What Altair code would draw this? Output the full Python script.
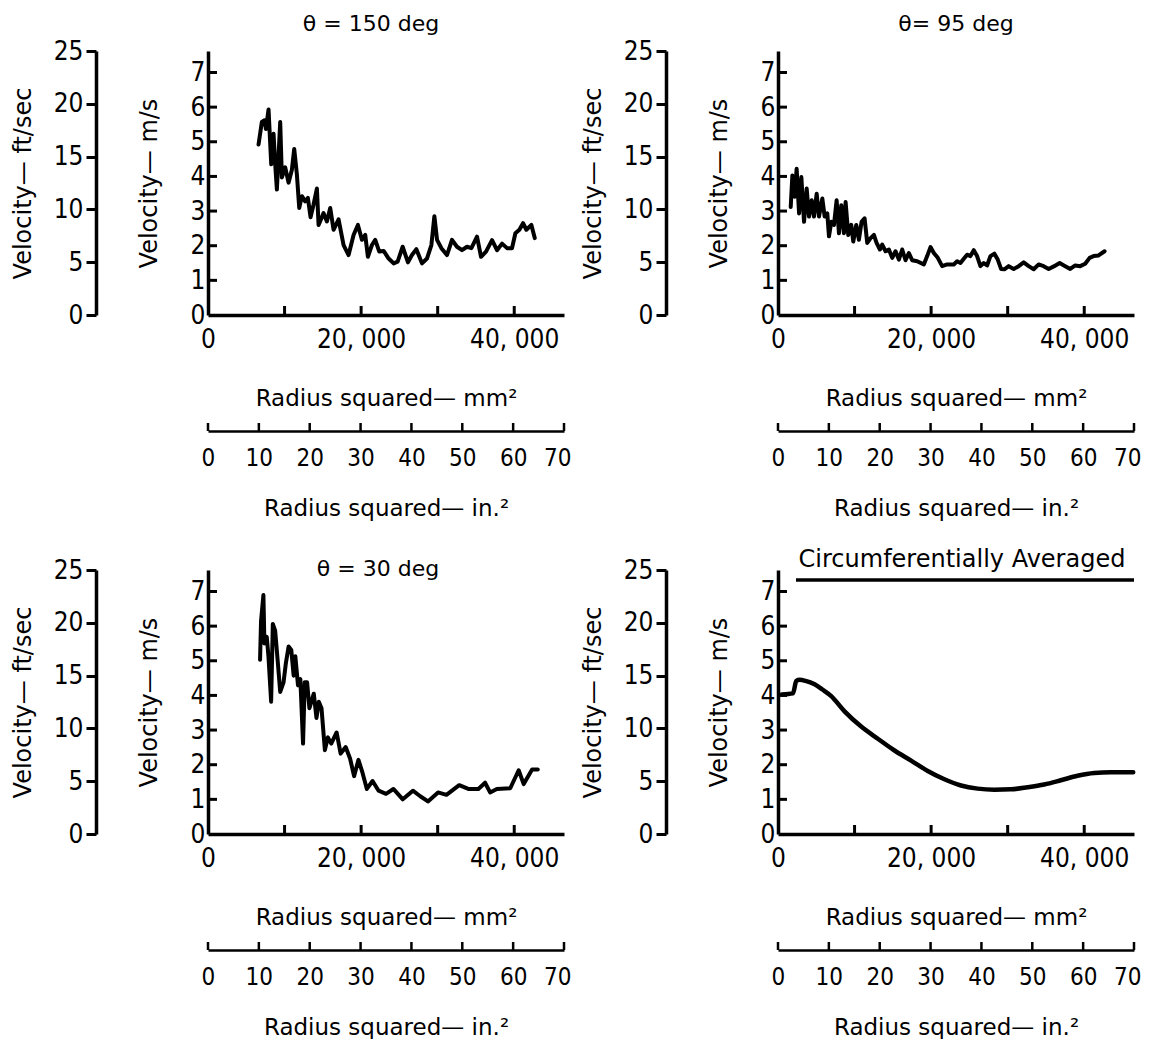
import altair as alt
import pandas as pd

# ---------------- data ----------------
r2_150 = [6601, 7033, 7386, 7560, 7909, 8258, 8562, 8780, 8997, 9432,
          9650, 10086, 10521, 10957, 11262, 11610, 11915, 12263, 12699, 13047,
          13396, 13788, 14224, 14442, 15096, 15531, 15966, 16401, 17055, 17708,
          18361, 19015, 19581, 20104, 20539, 20887, 21410, 21846, 22369, 22941,
          23595, 24248, 24771, 25425, 26119, 26642, 27216, 27950, 28603, 29177,
          29569, 29917, 30484, 31216, 31869, 32523, 33176, 33830, 34405, 35138,
          35661, 36314, 37099, 37752, 38406, 39059, 39713, 40149, 40671, 41150,
          41585, 42239, 42681]
v_150 = [4.92, 5.57, 5.62, 5.37, 5.93, 4.35, 5.23, 4.35, 3.62, 5.57,
         3.97, 4.26, 3.82, 4.19, 4.79, 4.06, 3.09, 3.43, 3.28, 3.38,
         2.82, 3.19, 3.65, 2.60, 2.94, 2.70, 3.09, 2.46, 2.76, 2.02,
         1.73, 2.31, 2.60, 2.17, 2.31, 1.68, 2.02, 2.17, 1.83, 1.85,
         1.63, 1.49, 1.54, 1.97, 1.52, 1.73, 1.90, 1.49, 1.63, 2.02,
         2.85, 2.17, 1.93, 1.73, 2.17, 1.97, 1.87, 1.97, 1.93, 2.26,
         1.68, 1.83, 2.16, 1.87, 2.06, 1.93, 1.93, 2.36, 2.46, 2.65,
         2.46, 2.60, 2.22]

r2_95 = [1660, 1878, 2174, 2435, 2753, 3050, 3400, 3747, 4051, 4398,
         4702, 5050, 5354, 5789, 6093, 6440, 6658, 6962, 7310, 7658,
         7962, 8266, 8614, 8831, 9179, 9570, 9831, 10222, 10570, 10917,
         11309, 11657, 12092, 12526, 12874, 13309, 13613, 14048, 14483, 14918,
         15353, 15787, 16222, 16657, 17092, 17527, 18180, 19049, 19484, 19918,
         20353, 20875, 21440, 22092, 22962, 23397, 23831, 24266, 24701, 25136,
         25571, 26005, 26440, 26875, 27310, 27745, 28266, 28701, 29136, 29570,
         30135, 30788, 31440, 32092, 32744, 33396, 34048, 34700, 35352, 36083,
         36788, 37518, 38170, 38822, 39474, 40126, 40700, 41222, 41874, 42657]
v_95 = [3.12, 4.03, 3.41, 4.22, 2.93, 3.98, 2.69, 3.65, 2.84, 3.31,
        2.84, 3.50, 2.84, 3.36, 2.84, 2.93, 2.27, 2.69, 2.60, 3.31,
        2.36, 3.17, 2.36, 3.26, 2.31, 2.60, 2.12, 2.60, 2.17, 2.69,
        2.79, 2.08, 2.22, 2.31, 2.08, 1.89, 2.03, 1.84, 1.89, 1.65,
        1.84, 1.60, 1.89, 1.58, 1.79, 1.58, 1.55, 1.46, 1.70, 1.96,
        1.79, 1.65, 1.41, 1.46, 1.46, 1.55, 1.50, 1.62, 1.74, 1.70,
        1.87, 1.70, 1.41, 1.50, 1.43, 1.70, 1.77, 1.60, 1.33, 1.32,
        1.41, 1.33, 1.41, 1.52, 1.41, 1.32, 1.46, 1.41, 1.33, 1.41,
        1.50, 1.41, 1.33, 1.43, 1.41, 1.48, 1.65, 1.70, 1.72, 1.84]

r2_30 = [6799, 6930, 7238, 7370, 7676, 7896, 8247, 8466, 8773, 9125,
         9432, 9870, 10177, 10528, 10879, 11186, 11405, 11756, 12063, 12414,
         12634, 12941, 13248, 13511, 13818, 14169, 14476, 14827, 15266, 15660,
         16097, 16799, 17325, 17983, 18556, 19082, 19652, 20179, 20749, 21494,
         22284, 23252, 24214, 25443, 26759, 27726, 28732, 30049, 31146, 32811,
         34000, 35316, 36190, 36848, 37725, 39480, 40579, 41237, 42332, 43076]
v_30 = [5.03, 6.15, 6.90, 5.50, 5.69, 5.13, 3.82, 6.06, 5.87, 4.94,
        4.10, 4.38, 4.94, 5.41, 5.31, 4.57, 5.13, 4.29, 4.47, 2.61,
        4.38, 4.38, 3.63, 3.82, 4.05, 3.35, 3.82, 3.63, 2.42, 2.79,
        2.61, 2.93, 2.32, 2.51, 2.18, 1.67, 2.14, 1.77, 1.30, 1.53,
        1.25, 1.16, 1.30, 1.00, 1.25, 1.09, 0.94, 1.20, 1.13, 1.41,
        1.30, 1.30, 1.48, 1.20, 1.30, 1.32, 1.84, 1.44, 1.86, 1.86]

r2_avg = [500, 1956, 2390, 2825, 3600, 4781, 5800, 6954, 8693, 10866,
          13040, 15212, 17386, 19560, 21733, 23906, 26080, 28257, 30420, 32600,
          34777, 36940, 39120, 41297, 43470, 46400]
v_avg = [4.03, 4.06, 4.42, 4.45, 4.42, 4.32, 4.17, 3.98, 3.54, 3.10,
         2.75, 2.41, 2.12, 1.82, 1.58, 1.40, 1.31, 1.28, 1.29, 1.35,
         1.43, 1.55, 1.68, 1.76, 1.78, 1.78]

panel_titles = ["\u03b8 = 150 deg", "\u03b8= 95 deg", "\u03b8 = 30 deg",
                "Circumferentially Averaged"]
ms_ticks = [0, 1, 2, 3, 4, 5, 6, 7]
fts_ticks = [0, 5, 10, 15, 20, 25]
mm2_labels = [0, 20000, 40000]
mm2_minor = [10000, 20000, 30000, 40000]
in2_ticks = [0, 10, 20, 30, 40, 50, 60, 70]

# ---------------- layout / style ----------------
W, H = 356, 264
X_MAX = 46500
FT_MAX = 25
V_MAX = FT_MAX * 0.3048
IN_OFF = 116
FT_OFF = 112
TXT = "DejaVu Sans"
NUM = "DejaVu Sans Condensed, DejaVu Sans, sans-serif"


def ax(**kw):
    base = dict(domainColor="black", domainWidth=3.5, labelColor="black",
                titleColor="black", labelFont=NUM, labelFontSize=26,
                titleFont=TXT, titleFontSize=23, titleFontWeight="normal",
                grid=False, labelFlush=False, labelOverlap=False)
    base.update(kw)
    return alt.Axis(**base)


def panel(r2, v, title, dx, toffset, tsize=22, smooth=False, underline=False):
    xs = alt.Scale(domain=[0, X_MAX], nice=False, zero=False)
    ys = alt.Scale(domain=[0, V_MAX], nice=False, zero=False)
    df = pd.DataFrame({"r2": r2, "v": v})
    line = alt.Chart(df).mark_line(
        color="black", strokeWidth=4.5 if smooth else 4, strokeJoin="round",
        strokeCap="round", interpolate="monotone" if smooth else "linear",
    ).encode(
        x=alt.X("r2:Q", scale=xs, axis=ax(
            values=mm2_labels, ticks=False, labelPadding=11,
            labelExpr="datum.value == 0 ? '0' : replace(format(datum.value, ','), ',', ', ')",
            title="Radius squared\u2014 mm\u00b2", titlePadding=35)),
        y=alt.Y("v:Q", scale=ys, axis=ax(
            values=ms_ticks, ticks=False, labelPadding=3,
            title="Velocity\u2014 m/s", titleFontSize=24, titlePadding=29)),
    )
    ms_t = alt.Chart(pd.DataFrame({"v": ms_ticks[1:]})).mark_rule(
        color="black", strokeWidth=3).encode(
        y=alt.Y("v:Q", scale=ys, axis=None), x=alt.value(0), x2=alt.value(9))
    mm_t = alt.Chart(pd.DataFrame({"r2": mm2_minor})).mark_rule(
        color="black", strokeWidth=3).encode(
        x=alt.X("r2:Q", scale=xs, axis=None), y=alt.value(H), y2=alt.value(H - 9))
    ft_ax = alt.Chart(pd.DataFrame({"ft": fts_ticks})).mark_point(opacity=0).encode(
        x=alt.value(0),
        y=alt.Y("ft:Q", scale=alt.Scale(domain=[0, FT_MAX], nice=False), axis=ax(
            orient="left", offset=FT_OFF, values=fts_ticks, tickSize=10, tickWidth=3,
            tickColor="black", labelPadding=3, title="Velocity\u2014 ft/sec",
            titleFontSize=24, titlePadding=18)),
    )
    in_ax = alt.Chart(pd.DataFrame({"in2": in2_ticks})).mark_rule(
        color="black", strokeWidth=2.5).encode(
        x=alt.X("in2:Q", scale=alt.Scale(domain=[0, 70], nice=False), axis=ax(
            orient="bottom", offset=IN_OFF, values=in2_ticks, ticks=False,
            domainWidth=2.5, labelFontSize=24, labelPadding=15,
            labelFlush=True, labelFlushOffset=7,
            title="Radius squared\u2014 in.\u00b2", titlePadding=27)),
        y=alt.value(H + IN_OFF), y2=alt.value(H + IN_OFF - 8),
    )
    layers = [line, ms_t, mm_t, ft_ax, in_ax]
    if underline:
        layers.append(alt.Chart(pd.DataFrame({"a": [0]})).mark_rule(
            color="black", strokeWidth=3.5).encode(
            x=alt.value(18), x2=alt.value(W), y=alt.value(10)))
    return alt.layer(*layers).resolve_scale(x="independent", y="independent").properties(
        width=W, height=H,
        title=alt.TitleParams(text=title, font=TXT, fontSize=tsize, fontWeight="normal",
                              color="black", dx=dx, offset=toffset, anchor="middle",
                              frame="group"),
    )


p1 = panel(r2_150, v_150, panel_titles[0], -15, 2)
p2 = panel(r2_95, v_95, panel_titles[1], 0, 2)
p3 = panel(r2_30, v_30, panel_titles[2], -8, -24)
p4 = panel(r2_avg, v_avg, panel_titles[3], 6, -15, tsize=24, smooth=True, underline=True)

row1 = alt.hconcat(p1, p2, spacing=10)
row2 = alt.hconcat(p3, p4, spacing=10)
chart = alt.vconcat(row1, row2, spacing=28).configure_view(stroke=None).properties(
    padding={"left": 3, "top": 5, "right": 0, "bottom": 0}, background="white")

chart.save("out.html", embed_options={"renderer": "svg", "actions": False})
